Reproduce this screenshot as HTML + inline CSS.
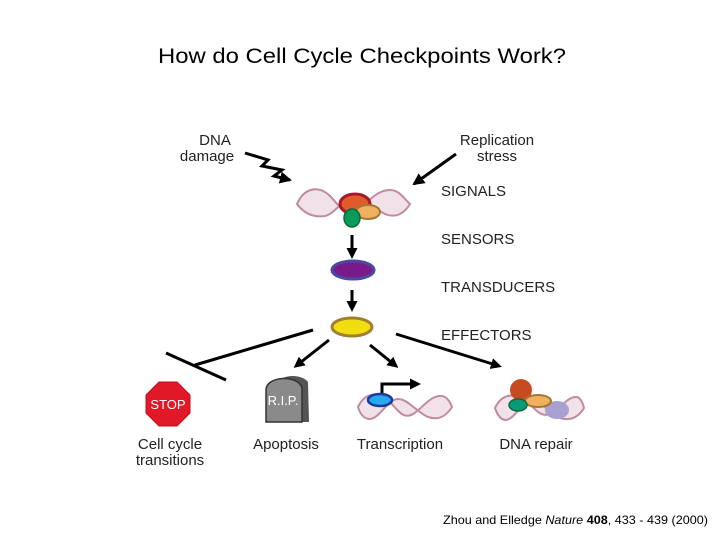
<!DOCTYPE html>
<html><head><meta charset="utf-8"><style>
html,body{margin:0;padding:0;background:#fff;}
svg{display:block;}
text{font-family:"Liberation Sans",Arial,sans-serif;}
</style></head><body>
<svg width="720" height="540" viewBox="0 0 720 540" xmlns="http://www.w3.org/2000/svg">
<defs>
<marker id="ah" markerWidth="11" markerHeight="11" refX="8" refY="5.5" orient="auto" markerUnits="userSpaceOnUse"><path d="M0,0 L11,5.5 L0,11 z" fill="#000"/></marker>
<marker id="ah2" markerWidth="12" markerHeight="12" refX="10" refY="6" orient="auto" markerUnits="userSpaceOnUse"><path d="M0,0 L12,6 L0,12 z" fill="#000"/></marker>
</defs>
<text x="158" y="63" font-size="21" textLength="408" lengthAdjust="spacingAndGlyphs" fill="#000">How do Cell Cycle Checkpoints Work?</text>

<g font-size="15" fill="#222">
<text x="215" y="145" text-anchor="middle">DNA</text>
<text x="207" y="161" text-anchor="middle">damage</text>
<text x="497" y="145" text-anchor="middle">Replication</text>
<text x="497" y="161" text-anchor="middle">stress</text>
<text x="441" y="196">SIGNALS</text>
<text x="441" y="244">SENSORS</text>
<text x="441" y="292">TRANSDUCERS</text>
<text x="441" y="340">EFFECTORS</text>
<text x="170" y="449" text-anchor="middle">Cell cycle</text>
<text x="170" y="465" text-anchor="middle">transitions</text>
<text x="286" y="449" text-anchor="middle">Apoptosis</text>
<text x="400" y="449" text-anchor="middle">Transcription</text>
<text x="536" y="449" text-anchor="middle">DNA repair</text>
</g>

<g fill="#f1e2ea" stroke="#c08aa0" stroke-width="2">
<path d="M297,204 C305,186 320,186 330,196 C340,206 345,218 355,212 C365,206 375,190 390,190 C400,190 405,200 410,204 C403,215 395,218 385,214 C375,210 365,196 355,196 C345,196 335,214 325,216 C312,218 303,212 297,204 z"/>
<path d="M358,407 C365,392 378,392 388,400 C398,410 403,420 413,414 C423,408 430,395 442,396 C448,397 451,404 452,407 C445,418 437,420 428,417 C418,413 408,399 398,399 C388,399 380,418 370,419 C364,419 360,414 358,407 z"/>
<path d="M495,408 C502,393 515,393 525,400 C535,408 540,418 550,414 C560,410 567,396 577,397 C581,398 583,404 584,408 C578,418 570,421 560,418 C550,414 542,401 532,401 C522,401 515,419 506,420 C500,420 497,414 495,408 z"/>
</g>

<ellipse cx="355" cy="204" rx="15" ry="10" fill="#e05a2a" stroke="#a8182a" stroke-width="3"/>
<ellipse cx="368" cy="212" rx="12" ry="7" fill="#f0b060" stroke="#a07830" stroke-width="2"/>
<ellipse cx="352" cy="218" rx="8" ry="9" fill="#0a9a5a" stroke="#0a6a3a" stroke-width="1.5"/>

<polyline points="245,153 268,160 262,166 282,170 274,176 290,180" fill="none" stroke="#000" stroke-width="3" marker-end="url(#ah2)"/>
<line x1="456" y1="154" x2="414" y2="184" stroke="#000" stroke-width="3" marker-end="url(#ah2)"/>

<line x1="352" y1="235" x2="352" y2="256" stroke="#000" stroke-width="3" marker-end="url(#ah)"/>
<ellipse cx="353" cy="270" rx="21" ry="9" fill="#7a1a8a" stroke="#4a4aa0" stroke-width="3"/>
<line x1="352" y1="290" x2="352" y2="309" stroke="#000" stroke-width="3" marker-end="url(#ah)"/>
<ellipse cx="352" cy="327" rx="20" ry="9" fill="#f2de10" stroke="#a08030" stroke-width="3"/>

<line x1="313" y1="330" x2="195" y2="365" stroke="#000" stroke-width="3"/>
<line x1="166" y1="353" x2="226" y2="380" stroke="#000" stroke-width="3"/>
<line x1="329" y1="340" x2="296" y2="366" stroke="#000" stroke-width="3" marker-end="url(#ah)"/>
<line x1="370" y1="345" x2="396" y2="366" stroke="#000" stroke-width="3" marker-end="url(#ah)"/>
<line x1="396" y1="334" x2="499" y2="366" stroke="#000" stroke-width="3" marker-end="url(#ah)"/>

<polygon points="159,382 177,382 190,395 190,413 177,426 159,426 146,413 146,395" fill="#e01828" stroke="#c01020" stroke-width="1"/>
<text x="168" y="409" font-size="13" fill="#fff" text-anchor="middle">STOP</text>

<path d="M275,422 L275,388 C275,375 300,372 308,382 L309,422 z" fill="#555"/>
<path d="M266,422 L266,390 C266,376 298,374 302,388 L302,422 z" fill="#8a8a8a" stroke="#333" stroke-width="1.5"/>
<text x="283" y="405" font-size="13" fill="#fff" text-anchor="middle">R.I.P.</text>

<polyline points="382,396 382,384 418,384" fill="none" stroke="#000" stroke-width="3" marker-end="url(#ah)"/>
<ellipse cx="380" cy="400" rx="12" ry="6" fill="#28a8ee" stroke="#1a3aa0" stroke-width="2.5"/>

<ellipse cx="557" cy="410" rx="12" ry="9" fill="#a8a0d0"/>
<circle cx="521" cy="390" r="11" fill="#c84a20"/>
<ellipse cx="538" cy="401" rx="13" ry="6" fill="#f0b060" stroke="#a07830" stroke-width="2"/>
<ellipse cx="518" cy="405" rx="9" ry="6" fill="#0a9a7a" stroke="#0a6a3a" stroke-width="1.5"/>

<text x="443" y="524" font-size="12" textLength="265" lengthAdjust="spacingAndGlyphs" fill="#000">Zhou and Elledge <tspan font-style="italic">Nature</tspan> <tspan font-weight="bold">408</tspan>, 433 - 439 (2000)</text>
</svg>
</body></html>
